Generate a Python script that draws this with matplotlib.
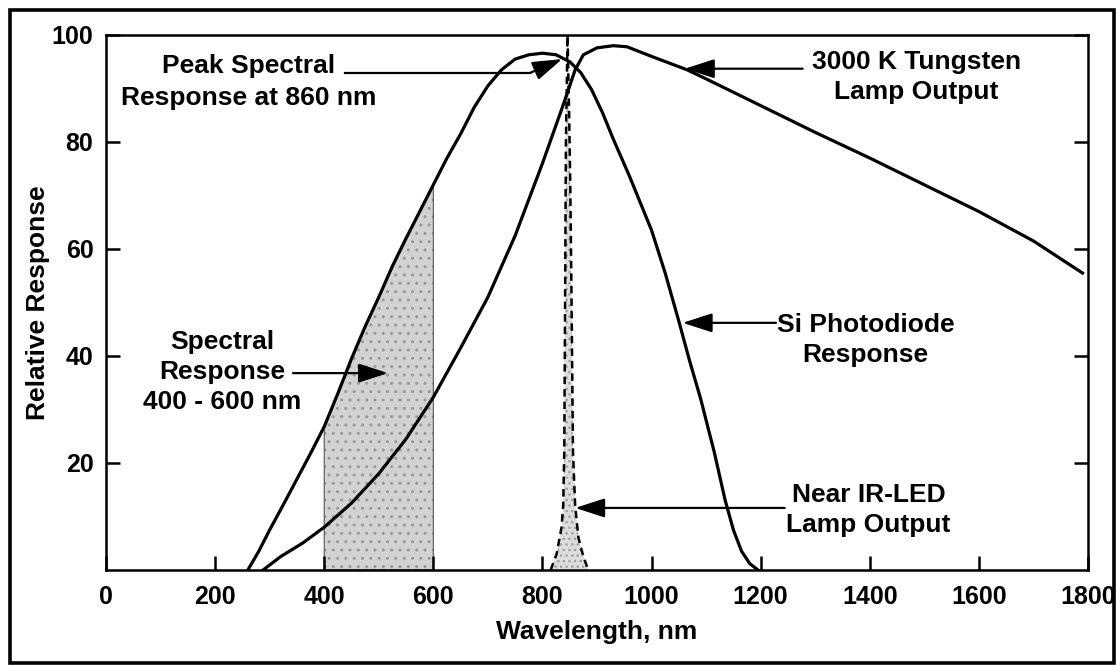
"""Relative spectral response: Si photodiode vs. tungsten lamp and near-IR LED."""
import matplotlib

matplotlib.use("Agg")

import matplotlib.pyplot as plt
from matplotlib.patches import Rectangle

plt.rcParams["font.family"] = ["Liberation Sans", "DejaVu Sans"]
plt.rcParams["font.weight"] = "bold"
plt.rcParams["hatch.linewidth"] = 1.0

# Si photodiode response (solid)
si_wl = [260, 280, 300, 325, 350, 375, 400, 425, 450, 475, 500, 525, 550, 575, 600,
         625, 650, 675, 700, 725, 750, 775, 800, 825, 850, 870, 890, 910, 930, 960,
         1000, 1025, 1050, 1070, 1090, 1115, 1135, 1150, 1165, 1180, 1195]
si_resp = [0, 3.5, 7.5, 12.2, 17, 21.8, 26.8, 33, 39.5, 45.5, 51, 56.8, 62, 67, 72,
           77, 81.5, 86.5, 90.5, 93.5, 95.5, 96.3, 96.6, 96.3, 95, 93, 89.8, 85.5, 80.5, 73.5,
           63.5, 55.5, 46.5, 39, 32, 22, 13, 7.5, 3.5, 1.2, 0]

# 3000 K tungsten lamp output (solid)
lamp_wl = [288, 320, 360, 400, 450, 500, 550, 600, 650, 700, 750, 800, 840, 860, 875,
           900, 930, 955, 1000, 1065, 1100, 1200, 1300, 1400, 1500, 1600, 1700, 1790]
lamp_out = [0, 2.5, 5, 8, 12.5, 18, 24.5, 32.3, 41.5, 51, 62.5, 76, 87.5, 93.5, 96.3,
            97.6, 98, 97.8, 96, 93.5, 91.8, 86.8, 81.8, 77, 72, 67, 61.5, 55.5]

# near IR-LED lamp output (dashed)
led_wl = [815, 826, 835, 838, 840, 841.5, 843, 846, 849, 851, 853, 856, 860, 866, 875, 884]
led_out = [0, 3, 8, 12, 22, 50, 80, 100, 85, 72, 54, 22, 12, 6, 2.5, 0]

band_lo, band_hi = 400, 600

x_ticks = [0, 200, 400, 600, 800, 1000, 1200, 1400, 1600, 1800]
y_ticks = [20, 40, 60, 80, 100]

FS = 19


def arrow(ax, tail, tip):
    ax.annotate(
        "", xy=tip, xytext=tail,
        arrowprops=dict(arrowstyle="-|>,head_length=1.3,head_width=0.42",
                        mutation_scale=14, lw=1.6, color="black",
                        shrinkA=0, shrinkB=0),
    )


fig = plt.figure(figsize=(11.19, 6.65), dpi=100)
ax = fig.add_axes([106 / 1119, 1 - 570 / 665, (1088 - 106) / 1119, (570 - 35) / 665])

# shaded 400-600 nm band under the photodiode curve
band_wl = [w for w in si_wl if band_lo <= w <= band_hi]
band_resp = [r for w, r in zip(si_wl, si_resp) if band_lo <= w <= band_hi]
ax.fill_between(band_wl, band_resp, 0, facecolor="#d2d2d2", edgecolor="#9a9a9a",
                hatch="..", lw=0, zorder=1)
ax.fill_between(band_wl, band_resp, 0, facecolor="none", edgecolor="#555555",
                lw=0.8, zorder=1)

# LED peak
ax.fill_between(led_wl, led_out, 0, facecolor="#dcdcdc", edgecolor="#a0a0a0",
                hatch="...", lw=0, zorder=1)
ax.plot(led_wl, led_out, color="black", lw=1.8, ls=(0, (3, 2)), zorder=2)

ax.plot(si_wl, si_resp, color="black", lw=2.3, zorder=3)
ax.plot(lamp_wl, lamp_out, color="black", lw=2.3, zorder=3)

ax.set_xlim(0, 1800)
ax.set_ylim(0, 100)
ax.set_xticks(x_ticks)
ax.set_yticks(y_ticks)
ax.tick_params(axis="both", direction="in", length=10, width=1.8, labelsize=18)
ax.tick_params(axis="y", right=True, pad=9)
ax.tick_params(axis="x", pad=11)
for spine in ax.spines.values():
    spine.set_linewidth(1.8)

ax.set_xlabel("Wavelength, nm", fontsize=FS, fontweight="bold", labelpad=8)
ax.set_ylabel("Relative Response", fontsize=FS, fontweight="bold", labelpad=1)

# annotations
ax.text(262, 91.2, "Peak Spectral\nResponse at 860 nm", fontsize=FS, ha="center",
        va="center", linespacing=1.45)
ax.plot([438, 777], [92.9, 92.9], color="black", lw=1.6)
arrow(ax, (777, 92.9), (836, 95.5))

ax.text(1485, 92.1, "3000 K Tungsten\nLamp Output", fontsize=FS, ha="center",
        va="center", linespacing=1.3)
arrow(ax, (1277, 93.7), (1061, 93.7))

ax.text(1392, 43.0, "Si Photodiode\nResponse", fontsize=FS, ha="center",
        va="center", linespacing=1.35)
arrow(ax, (1228, 46.2), (1057, 46.2))

ax.text(1398, 11.2, "Near IR-LED\nLamp Output", fontsize=FS, ha="center",
        va="center", linespacing=1.3)
arrow(ax, (1244, 11.6), (860, 11.6))

ax.text(213, 37, "Spectral\nResponse\n400 - 600 nm", fontsize=FS, ha="center",
        va="center", linespacing=1.3)
arrow(ax, (343, 36.8), (517, 36.8))

# outer frame around the whole figure
fig.patches.append(Rectangle((10 / 1119, 2 / 665), 1104 / 1119, 653 / 665,
                             transform=fig.transFigure, fill=False,
                             edgecolor="black", lw=2.6))

fig.savefig("out.png", dpi=100)
